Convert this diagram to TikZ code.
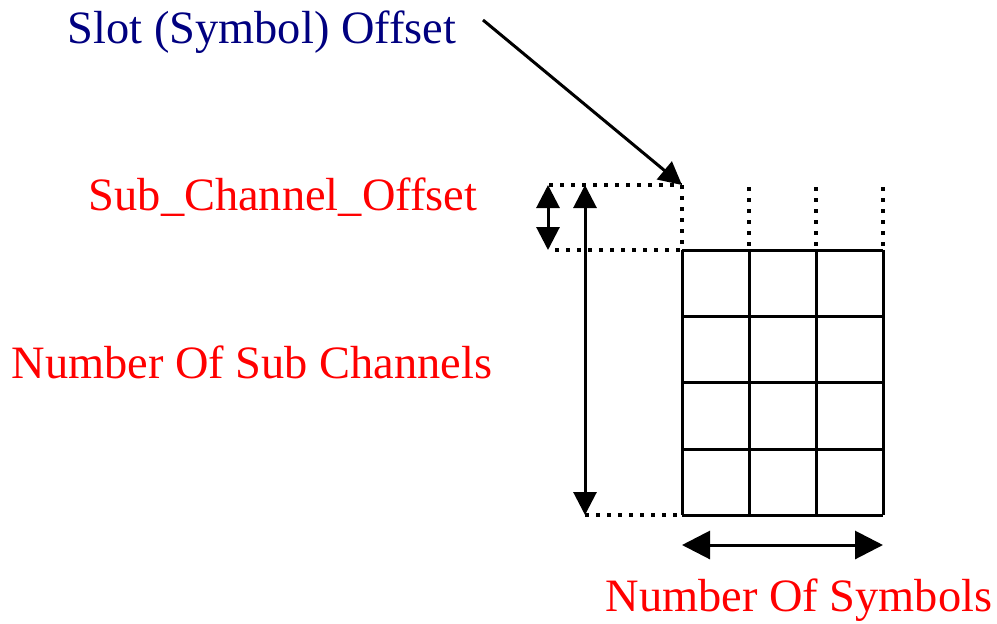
\documentclass[tikz,border=0pt]{standalone}
\usepackage{fontspec}
\setmainfont{Liberation Serif}
\usepackage{xcolor}
\usetikzlibrary{arrows.meta}
\definecolor{slotblue}{RGB}{0,0,128}

\begin{document}
\begin{tikzpicture}[x=0.5pt,y=-0.5pt,>={Triangle[length=11.5pt,width=11.5pt]},
  lbl/.style={font=\fontsize{23.2}{27}\selectfont},
  thickline/.style={line width=1.5pt},
  bigtips/.style={{Triangle[length=14pt,width=14pt]}-{Triangle[length=14pt,width=14pt]}},
  dots/.style={line width=1.6pt,dash pattern=on 2.2pt off 3.3pt}]
\useasboundingbox (0,0) rectangle (997,623);
% grid corners
\coordinate (top) at (682,185);
\coordinate (tl) at (682,250);
\coordinate (tr) at (883,250);
\coordinate (bl) at (682,515);
\coordinate (br) at (883,515);
% labels
\node[lbl,text=slotblue] (slot) at (262,32) {Slot (Symbol) Offset};
\node[lbl,text=red] (subofs) at (283,197) {Sub\_Channel\_Offset};
\node[lbl,text=red] (nsub) at (252,362) {Number Of Sub Channels};
\node[lbl,text=red] (nsym) at (799,600) {Number Of Symbols};
% grid
\foreach \x in {682,749,816,883}
  \draw[thickline](\x,250)--(\x,515);
\foreach \y in {250,316,382,449,515}
  \draw[thickline](682,\y)--(883,\y);
% dotted guides
\foreach \x in {749,816,883}
  \draw[dots](\x,187)--(\x,250);
\draw[dots](top)--(tl);
\draw[dots](549,185)--(top);
\draw[dots](555,250)--(tl);
\draw[dots](585,515)--(bl);
% arrows
\coordinate (slotstart) at (483,20);
\draw[thickline,->](slotstart)--(top);
\draw[thickline,<->](548,185)--(548,250);
\draw[thickline,<->](585,185)--(585,515);
\draw[thickline,bigtips](682,545)--(883,545);
\end{tikzpicture}
\end{document}
